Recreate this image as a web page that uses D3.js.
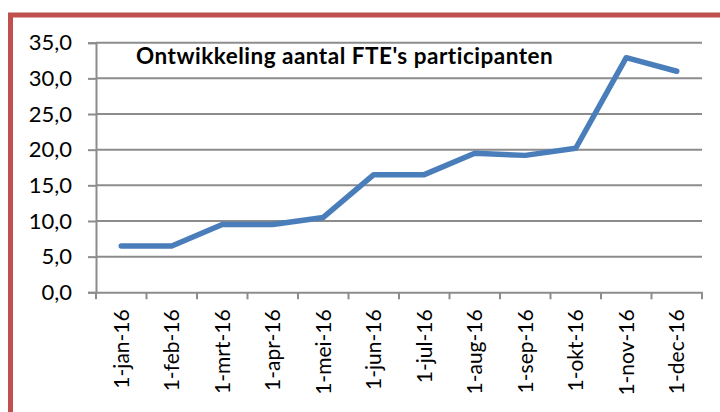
<!DOCTYPE html>
<html><head><meta charset="utf-8">
<script src="https://cdn.jsdelivr.net/npm/d3@7/dist/d3.min.js"></script>
<style>body{margin:0;background:#fff}svg{display:block}</style>
</head><body><svg id="c" width="720" height="412"></svg>
<script>
const categories = ["1-jan-16","1-feb-16","1-mrt-16","1-apr-16","1-mei-16","1-jun-16","1-jul-16","1-aug-16","1-sep-16","1-okt-16","1-nov-16","1-dec-16"];
const values = [6.5,6.5,9.5,9.5,10.5,16.5,16.5,19.5,19.2,20.2,32.9,31.0];
const yTicks = [0,5,10,15,20,25,30,35];
const title = "Ontwikkeling aantal FTE's participanten";

const svg = d3.select("#c");
const font = "Lato, 'Open Sans', sans-serif";
// border
svg.append("rect").attr("x",10.5).attr("y",15).attr("width",720).attr("height",420)
  .attr("fill","none").attr("stroke","#C0504D").attr("stroke-width",5);

const L=96, R=702, T=42.7, B=292.3;
const x = d3.scaleBand().domain(categories).range([L,R]);
const y = d3.scaleLinear().domain([0,35]).range([B,T]);

// gridlines
svg.append("g").selectAll("line").data(yTicks.filter(d=>d>0)).join("line")
  .attr("x1",L).attr("x2",R).attr("y1",d=>y(d)).attr("y2",d=>y(d))
  .attr("stroke","#8c8c8c").attr("stroke-width",2);

// y axis
const ya = svg.append("g").attr("transform",`translate(${L},0)`)
  .call(d3.axisLeft(y).tickValues(yTicks).tickSize(8).tickPadding(16)
    .tickFormat(d=>d3.format(".1f")(d).replace(".",",")));
ya.select(".domain").attr("stroke","#8c8c8c").attr("stroke-width",2);
ya.selectAll(".tick line").attr("stroke","#8c8c8c").attr("stroke-width",2);
ya.selectAll("text").attr("font-family",font).attr("font-size",22).attr("fill","#000");

// x axis
const xa = svg.append("g").attr("transform",`translate(0,${B})`)
  .call(d3.axisBottom(x).tickSize(0).tickFormat(d=>d));
xa.select(".domain").attr("stroke","#8c8c8c").attr("stroke-width",2);
xa.selectAll(".tick text").attr("font-family",font).attr("font-size",21).attr("fill","#000")
  .attr("transform","rotate(-90)").attr("text-anchor","end")
  .attr("x",-17).attr("y",0).attr("dy","0.36em");
// category boundary ticks
const bounds = categories.map(c=>x(c)).concat([R]);
svg.append("g").selectAll("line").data(bounds).join("line")
  .attr("x1",d=>d).attr("x2",d=>d).attr("y1",B).attr("y2",B+7)
  .attr("stroke","#8c8c8c").attr("stroke-width",2);

// line
const line = d3.line().x((d,i)=>x(categories[i])+x.bandwidth()/2).y(d=>y(d));
svg.append("path").datum(values).attr("d",line).attr("fill","none")
  .attr("stroke","#4A7EBB").attr("stroke-width",5.5).attr("stroke-linejoin","round").attr("stroke-linecap","round");

// title
svg.append("text").attr("x",136).attr("y",64).text(title)
  .attr("font-family",font).attr("font-weight","bold").attr("font-size",22.5)
  .attr("letter-spacing",0.5).attr("fill","#000");
</script></body></html>
